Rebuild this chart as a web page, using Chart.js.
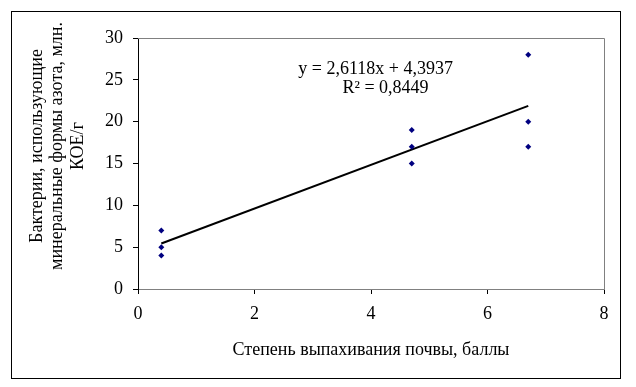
<!DOCTYPE html>
<html>
<head>
<meta charset="utf-8">
<script src="https://cdn.jsdelivr.net/npm/chart.js@4/dist/chart.umd.min.js"></script>
<style>
  html, body { margin: 0; padding: 0; background: #fff; }
  #wrap { width: 636px; height: 387px; }
</style>
</head>
<body>
<div id="wrap"><canvas id="c" width="636" height="387"></canvas></div>
<script>
// points
const degreeX = [0.4, 0.4, 0.4, 4.7, 4.7, 4.7, 6.7, 6.7, 6.7];
const bacteriaY = [7, 5, 4, 19, 17, 15, 28, 20, 17];

// linear trend, ends at the first and last x
const trendX = [0.4, 6.7];
const trendY = [5.44, 21.89];

const eqText = 'y = 2,6118x + 4,3937';
const r2Text = 'R² = 0,8449';
const yTitle = ['Бактерии, использующие', 'минеральные формы азота, млн.', 'КОЕ/г'];
const xTitle = 'Степень выпахивания почвы, баллы';

const serif = '"Liberation Serif", "Times New Roman", serif';

// frame around everything, grey top/right of plot, equation and y title
const extras = {
  id: 'extras',
  beforeDraw(chart) {
    const ctx = chart.ctx;
    ctx.save();
    ctx.fillStyle = '#fff';
    ctx.fillRect(0, 0, chart.width, chart.height);
    ctx.restore();
  },
  afterDraw(chart) {
    const ctx = chart.ctx;
    const a = chart.chartArea;
    const sx = chart.scales.x, sy = chart.scales.y;
    ctx.save();
    ctx.strokeStyle = '#000';
    ctx.lineWidth = 1;
    ctx.strokeRect(11.5, 11.5, 609, 367);

    ctx.strokeStyle = '#808080';
    ctx.beginPath();
    ctx.moveTo(a.left, Math.round(a.top) + 0.5);
    ctx.lineTo(Math.round(a.right) + 0.5, Math.round(a.top) + 0.5);
    ctx.lineTo(Math.round(a.right) + 0.5, a.bottom);
    ctx.stroke();

    ctx.fillStyle = '#000';
    ctx.font = '18px ' + serif;
    ctx.textAlign = 'center';
    ctx.textBaseline = 'middle';
    ctx.fillText(eqText, sx.getPixelForValue(4.08), sy.getPixelForValue(26.3));
    ctx.fillText(r2Text, sx.getPixelForValue(4.25), sy.getPixelForValue(24.0));

    // y axis title, three lines
    ctx.translate(0, 146);
    ctx.rotate(-Math.PI / 2);
    yTitle.forEach((t, i) => ctx.fillText(t, 0, 37 + i * 20.6));
    ctx.restore();
  }
};

new Chart(document.getElementById('c'), {
  data: {
    datasets: [
      {
        type: 'scatter',
        data: degreeX.map((x, i) => ({ x: x, y: bacteriaY[i] })),
        pointStyle: 'rectRot',
        pointRadius: 3,
        pointBackgroundColor: '#000080',
        pointBorderColor: '#000080',
        pointBorderWidth: 0
      },
      {
        type: 'line',
        data: trendX.map((x, i) => ({ x: x, y: trendY[i] })),
        borderColor: '#000',
        borderWidth: 2,
        pointRadius: 0,
        fill: false
      }
    ]
  },
  options: {
    responsive: false,
    animation: false,
    events: [],
    layout: { padding: { left: 12, top: 38, right: 32, bottom: 26 } },
    plugins: { legend: { display: false }, tooltip: { enabled: false } },
    scales: {
      x: {
        type: 'linear',
        min: 0, max: 8,
        afterFit: s => { s.height = 72; },
        ticks: { stepSize: 2, color: '#000', padding: 9, font: { family: serif, size: 18 } },
        grid: { drawOnChartArea: false, tickLength: 5, color: '#000' },
        border: { color: '#808080', width: 1 },
        title: { display: true, text: xTitle, color: '#000', padding: 0, font: { family: serif, size: 18 } }
      },
      y: {
        min: 0, max: 30,
        afterFit: s => { s.width = 126; },
        ticks: { stepSize: 5, color: '#000', padding: 10, font: { family: serif, size: 18 } },
        grid: { drawOnChartArea: false, tickLength: 5, color: '#000' },
        border: { color: '#000', width: 1 }
      }
    }
  },
  plugins: [extras]
});
</script>
</body>
</html>
